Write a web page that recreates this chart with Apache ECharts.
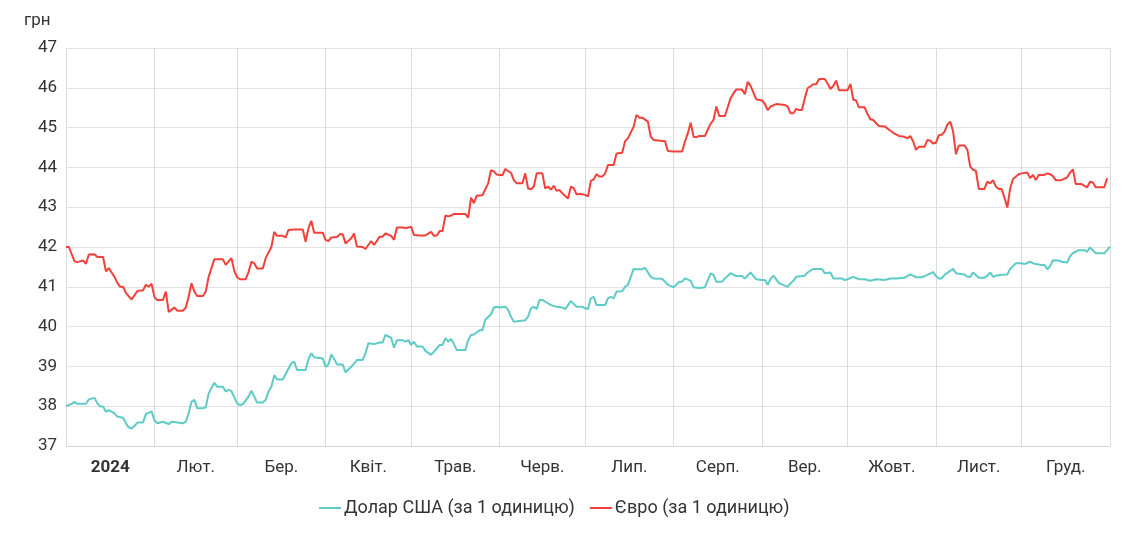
<!DOCTYPE html>
<html>
<head>
<meta charset="utf-8">
<script src="https://cdn.jsdelivr.net/npm/echarts@6/dist/echarts.min.js"></script>
<style>
html,body{margin:0;padding:0;background:#fff;}
#chart{width:1137px;height:539px;}
</style>
</head>
<body>
<div id="chart"></div>
<script>
// Month labels (x axis), centred in each month
const monthLabels = ['2024','Лют.','Бер.','Квіт.','Трав.','Черв.','Лип.','Серп.','Вер.','Жовт.','Лист.','Груд.'];
const yTicks = [37,38,39,40,41,42,43,44,45,46,47];
const seriesNames = ['Долар США (за 1 одиницю)', 'Євро (за 1 одиницю)'];
const unitLabel = 'грн';

// Day of year (0 = 1 Jan 2024) and rates
const usdDays = [0,2,3,4,7,8,10,11,12,13,14,15,17,18,20,21,22,23,24,25,27,28,30,31,32,34,36,37,39,41,42,43,44,45,46,48,49,50,52,53,55,56,57,58,60,61,62,64,65,66,67,69,70,71,72,73,74,76,77,79,80,81,84,85,86,87,90,91,92,93,94,95,97,98,100,102,104,105,106,108,110,111,112,114,115,116,118,119,120,121,122,123,125,126,128,130,131,132,133,134,135,136,137,140,141,142,143,145,146,147,149,150,151,152,154,155,156,157,159,161,162,163,164,165,166,167,168,170,172,174,175,176,177,179,181,182,183,184,185,186,189,190,191,192,193,195,196,197,199,200,202,203,205,206,209,211,213,215,216,217,219,220,222,224,225,226,227,228,230,231,233,235,237,238,240,241,242,244,245,246,247,248,250,251,253,254,255,256,259,260,262,265,266,268,269,272,273,274,276,278,280,282,284,287,289,291,294,296,298,300,302,304,305,306,307,308,310,311,312,315,316,317,318,320,322,323,324,325,326,328,330,331,333,335,336,338,339,340,342,343,344,345,346,348,349,351,352,353,354,355,357,358,359,360,361,364,365,366];
const usdValues = [38.00,38.06,38.11,38.06,38.06,38.17,38.21,38.07,37.99,37.99,37.86,37.90,37.82,37.74,37.71,37.57,37.47,37.44,37.50,37.59,37.59,37.80,37.87,37.65,37.57,37.61,37.55,37.61,37.59,37.57,37.61,37.82,38.11,38.16,37.95,37.95,37.97,38.32,38.59,38.49,38.49,38.37,38.41,38.38,38.07,38.03,38.05,38.24,38.39,38.24,38.09,38.09,38.16,38.37,38.49,38.78,38.67,38.67,38.81,39.08,39.12,38.91,38.91,39.18,39.33,39.23,39.20,38.99,39.05,39.30,39.19,39.05,39.05,38.85,38.99,39.16,39.16,39.33,39.58,39.56,39.60,39.60,39.79,39.72,39.47,39.66,39.66,39.62,39.66,39.54,39.62,39.50,39.50,39.39,39.29,39.45,39.54,39.54,39.71,39.62,39.69,39.56,39.41,39.41,39.66,39.79,39.80,39.91,39.91,40.17,40.31,40.48,40.50,40.48,40.50,40.42,40.25,40.12,40.14,40.16,40.25,40.46,40.50,40.44,40.67,40.67,40.63,40.54,40.50,40.48,40.44,40.54,40.64,40.50,40.50,40.46,40.44,40.71,40.75,40.54,40.54,40.71,40.75,40.71,40.88,40.89,41.00,41.05,41.45,41.44,41.44,41.48,41.25,41.21,41.20,41.05,40.99,41.13,41.13,41.21,41.15,40.99,40.97,40.99,41.17,41.34,41.30,41.13,41.13,41.21,41.34,41.27,41.27,41.21,41.36,41.27,41.19,41.17,41.17,41.05,41.20,41.28,41.09,41.06,41.00,41.09,41.15,41.25,41.28,41.36,41.45,41.45,41.34,41.36,41.21,41.21,41.17,41.19,41.25,41.19,41.19,41.15,41.19,41.17,41.21,41.21,41.23,41.31,41.24,41.24,41.30,41.37,41.27,41.21,41.21,41.30,41.40,41.45,41.34,41.31,41.25,41.25,41.36,41.23,41.23,41.28,41.36,41.25,41.28,41.30,41.31,41.45,41.59,41.59,41.57,41.63,41.59,41.57,41.55,41.55,41.44,41.52,41.67,41.66,41.63,41.61,41.77,41.85,41.88,41.92,41.92,41.88,41.99,41.92,41.84,41.84,41.92,42.01];

const eurDays = [0,1,3,4,6,7,8,10,11,13,14,15,16,17,18,19,20,21,22,23,25,26,27,28,29,30,31,32,34,35,36,37,38,39,41,42,43,44,45,46,48,49,50,52,55,56,58,59,60,61,63,64,65,66,67,69,70,72,73,74,76,77,78,80,83,84,85,86,87,90,91,92,93,95,96,97,98,100,101,102,104,105,107,108,110,111,112,114,115,116,118,119,120,121,122,124,126,128,129,130,131,132,133,134,135,136,140,141,142,143,144,146,148,149,150,151,153,154,156,157,158,160,161,162,163,164,165,167,168,169,170,171,172,173,174,176,177,178,179,180,182,183,184,185,186,187,188,189,190,192,193,195,196,197,199,200,201,202,204,205,206,210,211,213,216,217,218,219,220,221,222,224,225,226,227,228,229,231,233,234,235,237,238,239,240,242,244,245,246,247,249,252,253,254,255,256,257,258,259,260,262,263,264,266,267,268,269,270,271,274,275,276,277,278,280,281,282,283,284,285,287,289,290,292,294,295,296,297,298,299,301,302,303,304,305,306,307,308,309,310,311,312,313,315,316,317,318,319,320,322,323,324,325,326,327,328,329,330,331,332,334,335,337,338,339,340,341,343,344,345,346,347,349,351,352,353,354,356,358,359,360,361,364,365];
const eurValues = [42.00,42.00,41.64,41.62,41.66,41.58,41.81,41.82,41.75,41.75,41.39,41.47,41.36,41.25,41.10,41.00,41.00,40.85,40.76,40.68,40.89,40.91,40.91,41.05,41.00,41.08,40.74,40.67,40.67,40.88,40.37,40.42,40.48,40.40,40.40,40.48,40.75,41.09,40.88,40.77,40.77,40.88,41.25,41.69,41.69,41.55,41.72,41.40,41.24,41.19,41.19,41.37,41.63,41.59,41.46,41.46,41.72,42.00,42.38,42.28,42.28,42.24,42.43,42.44,42.44,42.13,42.47,42.66,42.36,42.36,42.18,42.15,42.24,42.25,42.32,42.32,42.09,42.22,42.34,42.01,42.00,41.95,42.15,42.05,42.26,42.26,42.34,42.28,42.18,42.49,42.49,42.48,42.49,42.51,42.30,42.29,42.29,42.38,42.28,42.29,42.40,42.40,42.79,42.77,42.79,42.83,42.83,42.74,43.24,43.10,43.29,43.30,43.60,43.93,43.90,43.82,43.80,43.96,43.86,43.68,43.60,43.60,43.85,43.47,43.45,43.52,43.85,43.85,43.47,43.52,43.44,43.54,43.41,43.43,43.35,43.22,43.52,43.48,43.32,43.34,43.31,43.27,43.66,43.70,43.83,43.77,43.77,43.85,44.06,44.06,44.35,44.37,44.66,44.73,45.02,45.32,45.25,45.25,45.15,44.77,44.69,44.66,44.41,44.40,44.40,44.65,44.86,45.12,44.77,44.76,44.79,44.79,44.95,45.10,45.19,45.53,45.29,45.29,45.74,45.86,45.96,45.96,45.84,46.15,46.05,45.71,45.68,45.60,45.44,45.53,45.59,45.57,45.53,45.36,45.36,45.47,45.44,45.44,45.74,45.99,46.09,46.09,46.22,46.22,46.11,45.97,46.05,46.18,45.94,45.94,46.10,45.70,45.68,45.51,45.51,45.34,45.21,45.19,45.11,45.04,45.03,44.92,44.87,44.79,44.77,44.73,44.79,44.65,44.44,44.52,44.52,44.69,44.67,44.60,44.62,44.81,44.82,44.90,45.08,45.15,44.90,44.33,44.55,44.55,44.44,44.02,43.94,43.91,43.46,43.46,43.64,43.60,43.68,43.52,43.46,43.46,43.24,42.99,43.47,43.71,43.83,43.85,43.87,43.73,43.81,43.68,43.81,43.81,43.85,43.83,43.78,43.68,43.68,43.75,43.87,43.95,43.58,43.58,43.50,43.64,43.62,43.50,43.50,43.73];

function pairs(days, vals){ return days.map((d,i)=>[d, vals[i]]); }

// Month boundaries as day-of-year numbers (0 = 1 Jan 2024, 366 = 1 Jan 2025)
const DAY = 86400000;
const t0 = Date.UTC(2024, 0, 1);
const monthStarts = [];
for (let m = 0; m <= 12; m++) monthStarts.push(Math.round((Date.UTC(2024, m, 1) - t0) / DAY));
const monthMids = [];
for (let m = 0; m < 12; m++) monthMids.push((monthStarts[m] + monthStarts[m+1]) / 2);
function monthOf(day){
  for (let m = 0; m < 12; m++) if (day < monthStarts[m+1]) return m;
  return 11;
}

const chart = echarts.init(document.getElementById('chart'), null, {renderer:'canvas'});
const FONT = 'Roboto, "Noto Sans", sans-serif';
chart.setOption({
  animation: false,
  textStyle: {fontFamily: FONT},
  grid: {left: 66, right: 27, top: 48, bottom: 93, containLabel: false},
  graphic: [{
    type: 'text', left: 24, top: 12,
    style: {text: unitLabel, fontSize: 17, fill: '#333', fontFamily: FONT}
  }],
  legend: {
    top: 494, left: 314,
    icon: 'rect', itemWidth: 22, itemHeight: 2, itemGap: 15,
    textStyle: {fontSize: 18, color: '#333', fontFamily: FONT, padding: [0,0,0,-2]},
    data: seriesNames
  },
  xAxis: {
    type: 'value',
    min: monthStarts[0], max: monthStarts[12],
    axisLine: {show: true, lineStyle: {color: '#d6d6d6'}},
    axisTick: {show: false, customValues: monthStarts},
    splitLine: {show: true, lineStyle: {color: '#dcdcdc', width: 1}},
    axisLabel: {
      customValues: monthMids,
      margin: 13,
      fontSize: 17, color: '#333', fontFamily: FONT,
      formatter: function(v){
        const m = monthOf(v);
        return m === 0 ? '{b|' + monthLabels[0] + '}' : monthLabels[m];
      },
      rich: {b: {fontWeight: 'bold', fontSize: 17, color: '#333', fontFamily: FONT}}
    }
  },
  yAxis: {
    type: 'value', min: yTicks[0], max: yTicks[yTicks.length-1], interval: 1,
    axisLine: {show: false}, axisTick: {show: false},
    splitLine: {lineStyle: {color: '#e3e3e3'}},
    axisLabel: {fontSize: 17, color: '#333', margin: 9, fontFamily: FONT}
  },
  series: [
    {name: seriesNames[0], type: 'line', data: pairs(usdDays, usdValues), symbol: 'none', showSymbol: false,
     lineStyle: {color: '#5ecbc6', width: 2}, itemStyle: {color: '#5ecbc6'}},
    {name: seriesNames[1], type: 'line', data: pairs(eurDays, eurValues), symbol: 'none', showSymbol: false,
     lineStyle: {color: '#f2413a', width: 2}, itemStyle: {color: '#f2413a'}}
  ]
});
</script>
</body>
</html>
